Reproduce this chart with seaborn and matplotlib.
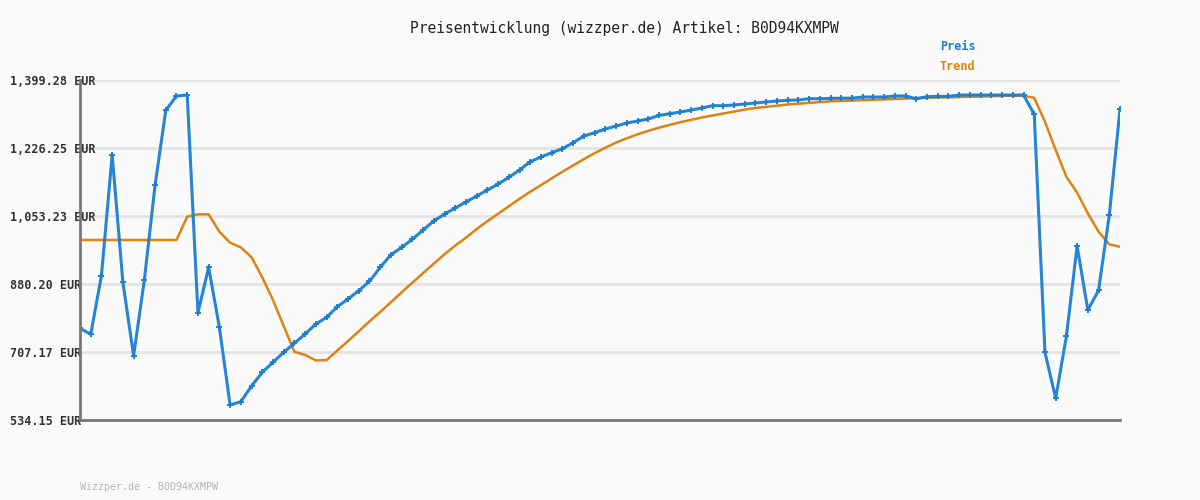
import matplotlib
matplotlib.use("Agg")
import matplotlib.pyplot as plt
import seaborn as sns
import pandas as pd

# price history (EUR)
preis = [767.5, 752.2, 901.4, 1208.4, 884.5, 697.8, 889.6, 1131.3, 1322.1, 1358.6,
         1361.1, 807.2, 922.6, 770.0, 572.3, 580.8, 620.7, 655.5, 681.0, 706.4,
         729.3, 753.0, 778.4, 795.4, 822.5, 842.0, 863.2, 887.0, 922.6, 954.7,
         973.5, 993.9, 1017.6, 1040.5, 1058.3, 1073.6, 1088.9, 1104.1, 1119.4, 1134.6,
         1151.7, 1170.3, 1191.4, 1203.4, 1214.3, 1224.5, 1239.8, 1256.8, 1265.2, 1274.6,
         1282.2, 1289.9, 1294.9, 1300.0, 1309.0, 1313.5, 1317.9, 1322.9, 1328.0, 1334.0,
         1334.0, 1335.7, 1338.2, 1340.8, 1343.3, 1345.9, 1347.6, 1348.4, 1351.7, 1351.7,
         1352.5, 1353.0, 1353.0, 1356.0, 1356.0, 1356.0, 1358.6, 1358.6, 1351.7, 1356.9,
         1357.7, 1357.7, 1361.1, 1361.1, 1361.1, 1361.1, 1361.1, 1361.1, 1361.1, 1312.0,
         706.4, 589.3, 747.1, 976.9, 814.0, 864.1, 1055.0, 1324.7]

trend = [992.2, 992.2, 992.2, 992.2, 992.2, 992.2, 992.2, 992.2, 992.2, 992.2,
         1051.5, 1057.5, 1057.5, 1013.3, 985.3, 973.5, 948.1, 897.2, 839.5, 773.0,
         707.9, 699.5, 685.8, 686.5, 711.0, 735.0, 760.0, 785.0, 809.0, 834.0,
         859.0, 883.5, 908.0, 932.0, 956.0, 978.0, 998.0, 1020.0, 1040.0, 1059.0,
         1078.0, 1097.0, 1115.0, 1132.0, 1149.0, 1166.0, 1182.0, 1198.0, 1213.0, 1227.0,
         1240.0, 1251.0, 1261.0, 1270.0, 1278.0, 1285.0, 1292.0, 1298.0, 1304.0, 1309.0,
         1314.0, 1319.0, 1324.0, 1328.0, 1331.0, 1334.0, 1337.0, 1339.0, 1341.0, 1343.0,
         1345.0, 1346.0, 1347.0, 1348.0, 1349.0, 1350.0, 1351.0, 1352.0, 1353.0, 1354.0,
         1355.0, 1355.0, 1356.0, 1357.0, 1357.0, 1358.0, 1359.0, 1359.0, 1359.0, 1354.0,
         1293.2, 1221.2, 1153.2, 1112.5, 1060.0, 1013.3, 981.2, 975.1]

y_ticks = [534.15, 707.17, 880.20, 1053.23, 1226.25, 1399.28]
artikel = "B0D94KXMPW"

blue = "#1a7fd0"
orange = "#e0820f"
mono = "DejaVu Sans Mono"

df = pd.DataFrame({"idx": range(len(preis)), "Preis": preis, "Trend": trend})

sns.set_style("white")
fig = plt.figure(figsize=(12, 5), dpi=100, facecolor="#fafafa")
ax = fig.add_axes([80 / 1200, 80 / 500, 1040 / 1200, 340 / 500])
ax.set_facecolor("#fafafa")

sns.lineplot(data=df, x="idx", y="Trend", ax=ax, color=orange, linewidth=1.8)
sns.lineplot(data=df, x="idx", y="Preis", ax=ax, color=blue, linewidth=2.2,
             marker="P", markersize=5, markeredgewidth=0, alpha=0.95)

ax.set_xlim(0, len(preis) - 1)
ax.set_ylim(y_ticks[0], y_ticks[-1])
ax.set_yticks(y_ticks)
ax.set_yticklabels([f"{v:,.2f} EUR" for v in y_ticks])
ax.set_xticks([])
ax.set_xlabel("")
ax.set_ylabel("")
ax.grid(axis="y", color="#e3e3e3", linewidth=2)
ax.set_axisbelow(True)

ax.tick_params(axis="y", length=0, pad=50.4, labelsize=8.5, labelcolor="#333333")
for lab in ax.get_yticklabels():
    lab.set_ha("left")
    lab.set_fontfamily(mono)
    lab.set_fontweight("bold")

for side in ["top", "right"]:
    ax.spines[side].set_visible(False)
for side in ["left", "bottom"]:
    ax.spines[side].set_color("#777777")
    ax.spines[side].set_linewidth(2)
    ax.spines[side].set_zorder(5)

fig.text(624 / 1200, 1 - 28 / 500, f"Preisentwicklung (wizzper.de) Artikel: {artikel}",
         ha="center", va="center", family=mono, fontsize=10.5, color="#222222")
fig.text(940 / 1200, 1 - 47 / 500, "Preis", ha="left", va="center", family=mono,
         fontsize=8.5, fontweight="bold", color=blue)
fig.text(940 / 1200, 1 - 67 / 500, "Trend", ha="left", va="center", family=mono,
         fontsize=8.5, fontweight="bold", color=orange)
fig.text(80 / 1200, 1 - 487 / 500, f"Wizzper.de - {artikel}", ha="left", va="center",
         family=mono, fontsize=7.2, color="#b5b5b5")

fig.savefig("out.png", dpi=100, facecolor=fig.get_facecolor())
